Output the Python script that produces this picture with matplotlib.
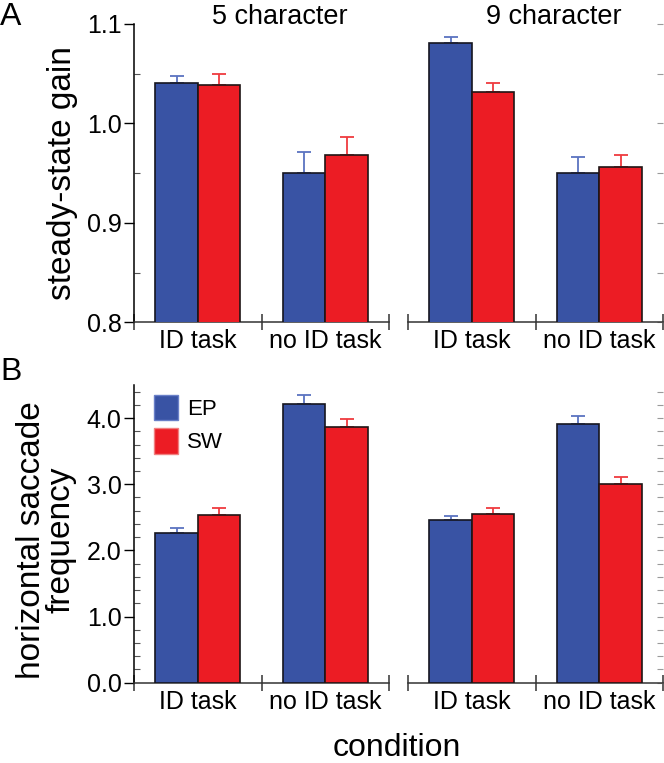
import matplotlib
matplotlib.use("Agg")
import matplotlib.pyplot as plt
import numpy as np
from matplotlib.ticker import MultipleLocator, FixedLocator
from matplotlib.patches import Patch

plt.rcParams['font.family'] = ['Liberation Sans', 'DejaVu Sans']

conditions = ["ID task", "no ID task"]
groups = ["5 character", "9 character"]
series = ["EP", "SW"]

# steady-state gain [group][condition]
gain_EP = [[1.041, 0.950], [1.081, 0.950]]
gain_EP_err = [[0.007, 0.021], [0.006, 0.016]]
gain_SW = [[1.039, 0.968], [1.032, 0.9565]]
gain_SW_err = [[0.011, 0.018], [0.009, 0.012]]

# horizontal saccade frequency [group][condition]
freq_EP = [[2.26, 4.21], [2.46, 3.91]]
freq_EP_err = [[0.08, 0.145], [0.06, 0.12]]
freq_SW = [[2.54, 3.86], [2.55, 3.01]]
freq_SW_err = [[0.10, 0.13], [0.095, 0.10]]

blue = "#3953a4"
red = "#ec1c24"
blue_err = "#5b73c0"
red_err = "#ef3a3f"

W, H = 664, 763
fig = plt.figure(figsize=(W / 100, H / 100), dpi=100)

def fx(px):
    return px / W

def fy(py):
    return 1 - py / H

panels = [
    dict(top=24, bot=322.3, ylim=(0.8, 1.1), major=0.1, minor=0.05,
         ep=gain_EP, epe=gain_EP_err, sw=gain_SW, swe=gain_SW_err),
    dict(top=385, bot=682.7, ylim=(0.0, 4.5), major=1.0, minor=0.2,
         ep=freq_EP, epe=freq_EP_err, sw=freq_SW, swe=freq_SW_err),
]
xlefts = [134, 408]
axw = 255

axes = []
for pi, p in enumerate(panels):
    row = []
    for gi in range(2):
        ax = fig.add_axes([fx(xlefts[gi]), fy(p['bot']), fx(axw), (p['bot'] - p['top']) / H])
        x = np.arange(len(conditions)) + 0.5
        bw = 1 / 3
        ax.bar(x - bw / 2, p['ep'][gi], width=bw, color=blue, edgecolor="#15151f", linewidth=1.2, zorder=3)
        ax.bar(x + bw / 2, p['sw'][gi], width=bw, color=red, edgecolor="#1f1515", linewidth=1.2, zorder=3)
        ax.errorbar(x - bw / 2, p['ep'][gi], yerr=[np.zeros(2), p['epe'][gi]], fmt='none',
                    ecolor=blue_err, elinewidth=1.3, capsize=5, capthick=1.3, zorder=2)
        ax.errorbar(x + bw / 2, p['sw'][gi], yerr=[np.zeros(2), p['swe'][gi]], fmt='none',
                    ecolor=red_err, elinewidth=1.3, capsize=5, capthick=1.3, zorder=2)
        ax.set_xlim(0, 2)
        ax.set_ylim(*p['ylim'])
        ax.spines['top'].set_visible(False)
        ax.spines['right'].set_visible(False)
        ax.spines['bottom'].set_linewidth(1.1)
        ax.spines['bottom'].set_color("#333333")
        ax.xaxis.set_major_locator(FixedLocator([0, 1, 2]))
        ax.set_xticklabels([])
        ax.xaxis.set_minor_locator(FixedLocator([0.5, 1.5]))
        ax.set_xticklabels(conditions, minor=True, fontsize=18)
        ax.tick_params(axis='x', which='major', direction='inout', length=11, width=1.1, color="#333333")
        ax.tick_params(axis='x', which='minor', length=0, pad=5)
        if gi == 0:
            ax.spines['left'].set_linewidth(1.1)
            ax.yaxis.set_major_locator(MultipleLocator(p['major']))
            ax.yaxis.set_minor_locator(MultipleLocator(p['minor']))
            ax.yaxis.set_major_formatter(matplotlib.ticker.FuncFormatter(lambda v, _: "{:.1f}".format(v)))
            ax.tick_params(axis='y', which='major', direction='out', length=7, width=1, labelsize=18, pad=2)
            ax.tick_params(axis='y', which='minor', direction='in', length=4, width=0.8, color="#555555")
        else:
            ax.spines['left'].set_visible(False)
            ax.yaxis.set_major_locator(MultipleLocator(p['minor']))
            ax.yaxis.set_minor_locator(matplotlib.ticker.NullLocator())
            ax.yaxis.tick_right()
            ax.tick_params(axis='y', which='major', direction='in', length=4, width=0.8,
                           color="#9a9a9a", labelright=False, labelleft=False)
        row.append(ax)
    axes.append(row)

# group titles
for gi, g in enumerate(groups):
    fig.text(fx(xlefts[gi] + axw / 2 + 18), fy(17), g, ha='center', va='center', fontsize=19.5)

# y labels
fig.text(fx(63), fy(173), "steady-state gain", rotation=90, ha='center', va='center', fontsize=24)
fig.text(fx(46), fy(540), "horizontal saccade\nfrequency", rotation=90, ha='center', va='center',
         fontsize=24, linespacing=0.95)

# x label
fig.text(fx(397), fy(748), "condition", ha='center', va='center', fontsize=23)

# panel letters
fig.text(fx(0), fy(17), "A", ha='left', va='center', fontsize=23)
fig.text(fx(0), fy(372), "B", ha='left', va='center', fontsize=23)

# legend
handles = [Patch(facecolor=blue, edgecolor="#6a80c8", label=series[0]),
           Patch(facecolor=red, edgecolor="#f08080", label=series[1])]
axes[1][0].legend(handles=handles, loc='upper left', bbox_to_anchor=(0.0, 1.035), frameon=False,
                  fontsize=16, handlelength=1.1, handleheight=1.4, handletextpad=0.4, labelspacing=0.35)

fig.savefig("out.png", dpi=100)
